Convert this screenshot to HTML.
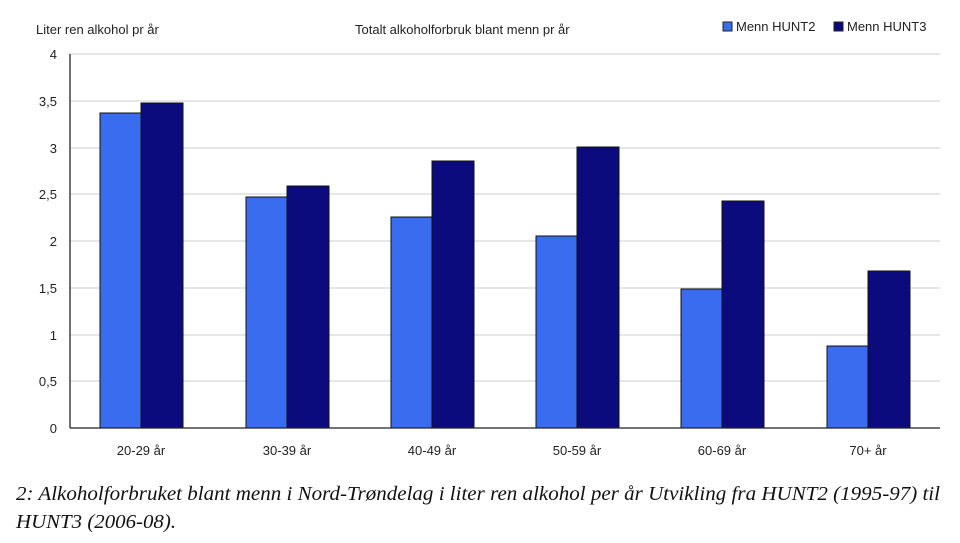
<!DOCTYPE html>
<html><head><meta charset="utf-8"><style>
body{margin:0;background:#fff;width:960px;height:538px;overflow:hidden}
</style></head><body>
<svg width="960" height="538" xmlns="http://www.w3.org/2000/svg" font-family="Liberation Sans, sans-serif">
<text x="36" y="34" font-size="13" fill="#222">Liter ren alkohol pr år</text>
<text x="355" y="34" font-size="13" fill="#222">Totalt alkoholforbruk blant menn pr år</text>
<rect x="723" y="22" width="9" height="9" fill="#3a6cf0" stroke="#222" stroke-width="1"/>
<text x="736" y="31" font-size="13" fill="#222">Menn HUNT2</text>
<rect x="834" y="22" width="9" height="9" fill="#0b0b7e" stroke="#222" stroke-width="1"/>
<text x="847" y="31" font-size="13" fill="#222">Menn HUNT3</text>
<g stroke="#d6d6d6" stroke-width="1.2">
<line x1="70" x2="940" y1="54" y2="54"/><line x1="70" x2="940" y1="101" y2="101"/>
<line x1="70" x2="940" y1="148" y2="148"/><line x1="70" x2="940" y1="194" y2="194"/>
<line x1="70" x2="940" y1="241" y2="241"/><line x1="70" x2="940" y1="288" y2="288"/>
<line x1="70" x2="940" y1="335" y2="335"/><line x1="70" x2="940" y1="381" y2="381"/>
</g>
<g font-size="13" fill="#222" text-anchor="end">
<text x="57" y="59">4</text><text x="57" y="106">3,5</text><text x="57" y="153">3</text>
<text x="57" y="199">2,5</text><text x="57" y="246">2</text><text x="57" y="293">1,5</text>
<text x="57" y="340">1</text><text x="57" y="386">0,5</text><text x="57" y="433">0</text>
</g>
<g stroke="#111" stroke-width="1">
<rect x="100" y="113" width="41" height="315" fill="#3a6cf0"/>
<rect x="141" y="103" width="42" height="325" fill="#0b0b7e"/>
<rect x="246" y="197" width="41" height="231" fill="#3a6cf0"/>
<rect x="287" y="186" width="42" height="242" fill="#0b0b7e"/>
<rect x="391" y="217" width="41" height="211" fill="#3a6cf0"/>
<rect x="432" y="161" width="42" height="267" fill="#0b0b7e"/>
<rect x="536" y="236" width="41" height="192" fill="#3a6cf0"/>
<rect x="577" y="147" width="42" height="281" fill="#0b0b7e"/>
<rect x="681" y="289" width="41" height="139" fill="#3a6cf0"/>
<rect x="722" y="201" width="42" height="227" fill="#0b0b7e"/>
<rect x="827" y="346" width="41" height="82" fill="#3a6cf0"/>
<rect x="868" y="271" width="42" height="157" fill="#0b0b7e"/>
</g>
<line x1="70" x2="70" y1="54" y2="428" stroke="#222" stroke-width="1.3"/>
<line x1="70" x2="940" y1="428" y2="428" stroke="#222" stroke-width="1.3"/>
<g font-size="13" fill="#222" text-anchor="middle">
<text x="141" y="455">20-29 år</text><text x="287" y="455">30-39 år</text>
<text x="432" y="455">40-49 år</text><text x="577" y="455">50-59 år</text>
<text x="722" y="455">60-69 år</text><text x="868" y="455">70+ år</text>
</g>
<g font-family="Liberation Serif, serif" font-style="italic" font-size="20" fill="#111">
<text x="16" y="500" textLength="924" lengthAdjust="spacingAndGlyphs">2: Alkoholforbruket blant menn i Nord-Trøndelag i liter ren alkohol per år Utvikling fra HUNT2 (1995-97) til</text>
<text x="16" y="528" textLength="160" lengthAdjust="spacingAndGlyphs">HUNT3 (2006-08).</text>
</g>
</svg>
</body></html>
